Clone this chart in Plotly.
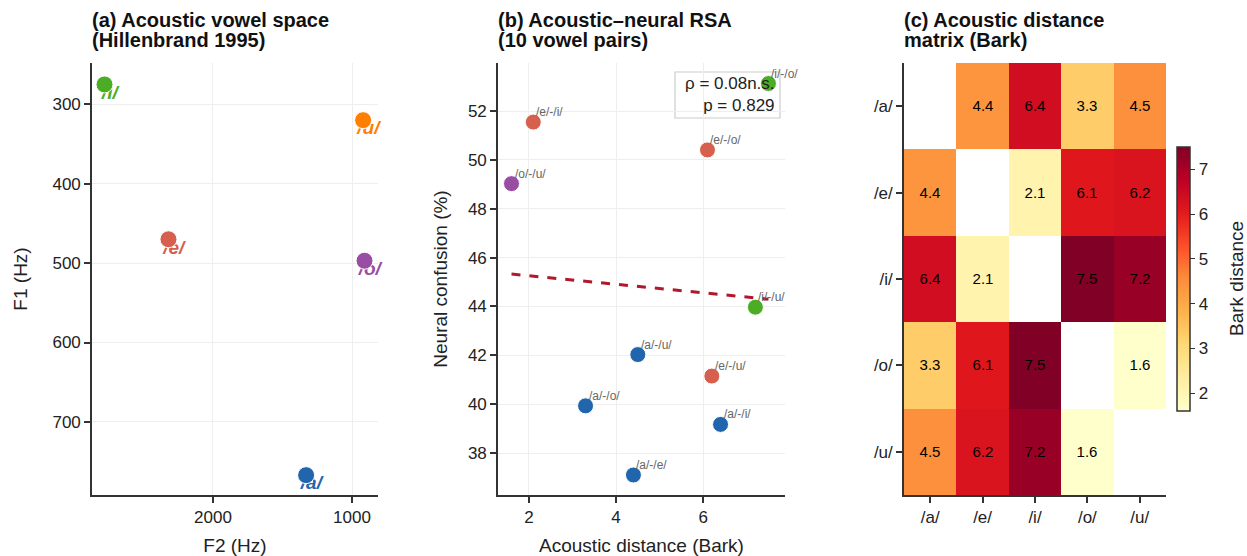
import numpy as np
import plotly.graph_objects as go

FONT = "Liberation Sans, Arial, sans-serif"

# ---- Panel (a) data ----
vowels = ["/a/", "/e/", "/i/", "/o/", "/u/"]
vowel_colors = ["#2166ac", "#d6604d", "#4dac26", "#984ea3", "#ff7f00"]
F1 = [767, 470, 275, 497, 320]
F2 = [1330, 2320, 2780, 910, 920]

# ---- Panel (b) data ----
pair_labels = ["/a/-/e/", "/a/-/i/", "/a/-/o/", "/a/-/u/", "/e/-/i/",
               "/e/-/o/", "/e/-/u/", "/i/-/o/", "/i/-/u/", "/o/-/u/"]
pair_first = [0, 0, 0, 0, 1, 1, 1, 2, 2, 3]
acoustic_dist = [4.4, 6.4, 3.3, 4.5, 2.1, 6.1, 6.2, 7.5, 7.2, 1.6]
neural_conf = [37.1, 39.17, 39.93, 42.03, 51.55, 50.41, 41.15, 53.13, 43.97, 49.03]
rho_text = "ρ = 0.08n.s."
p_text = "p = 0.829"

# ---- Panel (c) data ----
dist_matrix = [
    [None, 4.4, 6.4, 3.3, 4.5],
    [4.4, None, 2.1, 6.1, 6.2],
    [6.4, 2.1, None, 7.5, 7.2],
    [3.3, 6.1, 7.5, None, 1.6],
    [4.5, 6.2, 7.2, 1.6, None],
]
colorbar_ticks = [2, 3, 4, 5, 6, 7]

W, H = 1247, 556
def px(x): return x / W
def py(y): return 1 - y / H

TICK = 17
LAB = 19
NB = "\u00a0"

fig = go.Figure()

# Panel (a): labels first (under markers), then markers
fig.add_trace(go.Scatter(
    x=F2, y=F1, mode="text", text=[NB * 2 + v for v in vowels], textposition="bottom center",
    marker=dict(size=1), cliponaxis=False,
    textfont=dict(color=vowel_colors, size=19, family=FONT, weight="bold", style="italic"),
    xaxis="x", yaxis="y", showlegend=False, hoverinfo="skip"))
fig.add_trace(go.Scatter(
    x=F2, y=F1, mode="markers", cliponaxis=False,
    marker=dict(color=vowel_colors, size=17, line=dict(color="white", width=1)),
    xaxis="x", yaxis="y", showlegend=False))

# Panel (b): regression line
coef = np.polyfit(acoustic_dist, neural_conf, 1)
xl = np.array([min(acoustic_dist), max(acoustic_dist)])
fig.add_trace(go.Scatter(
    x=xl, y=np.polyval(coef, xl), mode="lines",
    line=dict(color="#b2182b", width=3, dash="dash"),
    xaxis="x2", yaxis="y2", showlegend=False))
fig.add_trace(go.Scatter(
    x=acoustic_dist, y=neural_conf, mode="markers",
    marker=dict(color=[vowel_colors[i] for i in pair_first], size=16,
                line=dict(color="white", width=1)),
    xaxis="x2", yaxis="y2", showlegend=False))

# Panel (c): heatmap
z = np.array([[np.nan if v is None else v for v in row] for row in dist_matrix])
txt = [["" if v is None else f"{v:.1f}" for v in row] for row in dist_matrix]
fig.add_trace(go.Heatmap(
    z=z, x=vowels, y=vowels, text=txt, texttemplate="%{text}",
    textfont=dict(size=15, color="black", family=FONT),
    colorscale="YlOrRd", zmin=float(np.nanmin(z)), zmax=float(np.nanmax(z)),
    xaxis="x3", yaxis="y3",
    colorbar=dict(x=px(1177), xanchor="left", y=py(279), yanchor="middle",
                  len=264 / H, lenmode="fraction", thickness=13, xpad=0, ypad=0,
                  outlinecolor="#333", outlinewidth=1.5,
                  tickvals=colorbar_ticks, ticks="outside", ticklen=5,
                  tickcolor="#333", tickfont=dict(size=TICK, family=FONT, color="#222"))))

axis_common = dict(showline=True, linecolor="#333", linewidth=1.6, ticks="outside",
                   ticklen=6, tickcolor="#333", tickwidth=1.6, mirror=False,
                   tickfont=dict(size=TICK, family=FONT, color="#222"),
                   zeroline=False)

yd = [py(495), py(63)]
fig.update_layout(
    width=W, height=H, margin=dict(l=0, r=0, t=0, b=0),
    paper_bgcolor="white", plot_bgcolor="white",
    font=dict(family=FONT, color="#222"),
    xaxis=dict(domain=[px(92), px(378)], range=[2870, 813], tickvals=[2000, 1000],
               showgrid=True, gridcolor="#eeeeee", gridwidth=1,
               title=dict(text="F2 (Hz)", font=dict(size=LAB), standoff=12), **axis_common),
    yaxis=dict(domain=yd, range=[792, 248], tickvals=[300, 400, 500, 600, 700],
               showgrid=True, gridcolor="#eeeeee", gridwidth=1,
               title=dict(text="F1 (Hz)", font=dict(size=LAB), standoff=20), **axis_common),
    xaxis2=dict(domain=[px(498), px(785)], range=[1.29, 7.88], tickvals=[2, 4, 6],
                showgrid=True, gridcolor="#eeeeee", gridwidth=1, anchor="y2",
                title=dict(text="Acoustic distance (Bark)", font=dict(size=LAB), standoff=12),
                **axis_common),
    yaxis2=dict(domain=yd, range=[36.28, 53.97], tickvals=[38, 40, 42, 44, 46, 48, 50, 52],
                showgrid=True, gridcolor="#eeeeee", gridwidth=1, anchor="x2",
                title=dict(text="Neural confusion (%)", font=dict(size=LAB), standoff=15),
                **axis_common),
    xaxis3=dict(domain=[px(904), px(1166)], anchor="y3", showgrid=False, **axis_common),
    yaxis3=dict(domain=yd, anchor="x3", autorange="reversed", showgrid=False, **axis_common),
)

# colorbar title
fig.add_annotation(xref="paper", yref="paper", x=px(1236), y=py(279), xanchor="center",
                   yanchor="middle", text="Bark distance", textangle=-90, showarrow=False,
                   font=dict(size=LAB, family=FONT, color="#222"))

# RSA stats box (behind markers)
fig.add_shape(type="rect", xref="x2 domain", yref="y2 domain",
              x0=(675 - 498) / 287, x1=(780 - 498) / 287,
              y0=(495 - 118) / 432, y1=(495 - 72) / 432,
              fillcolor="rgba(255,255,255,0.9)", line=dict(color="#cccccc", width=1.2),
              layer="below")
fig.add_annotation(xref="x2 domain", yref="y2 domain", x=(777 - 498) / 287,
                   y=(495 - 95) / 432, xanchor="right", yanchor="middle",
                   text=f"{rho_text}<br>{p_text}", align="right", showarrow=False,
                   font=dict(size=17, family=FONT, color="#222"))

# pair labels
for lab, xv, yv in zip(pair_labels, acoustic_dist, neural_conf):
    fig.add_annotation(x=xv, y=yv, xref="x2", yref="y2", text=lab, showarrow=False,
                       xanchor="left", yanchor="bottom", xshift=1, yshift=1,
                       font=dict(size=12, family=FONT, color="#666"))

# panel titles (two lines each)
titles = [("(a) Acoustic vowel space", "(Hillenbrand 1995)", 92),
          ("(b) Acoustic–neural RSA", "(10 vowel pairs)", 498),
          ("(c) Acoustic distance", "matrix (Bark)", 904)]
for l1, l2, x0 in titles:
    for t, base in ((l1, 28), (l2, 48)):
        fig.add_annotation(xref="paper", yref="paper", x=px(x0 - 2), y=py(base + 5),
                           xanchor="left", yanchor="bottom", text=f"<b>{t}</b>",
                           align="left", showarrow=False,
                           font=dict(size=20, family=FONT, color="#111"))

fig.write_html("out.html", config={"displayModeBar": False},
               post_script="document.body.style.margin='0px';")
